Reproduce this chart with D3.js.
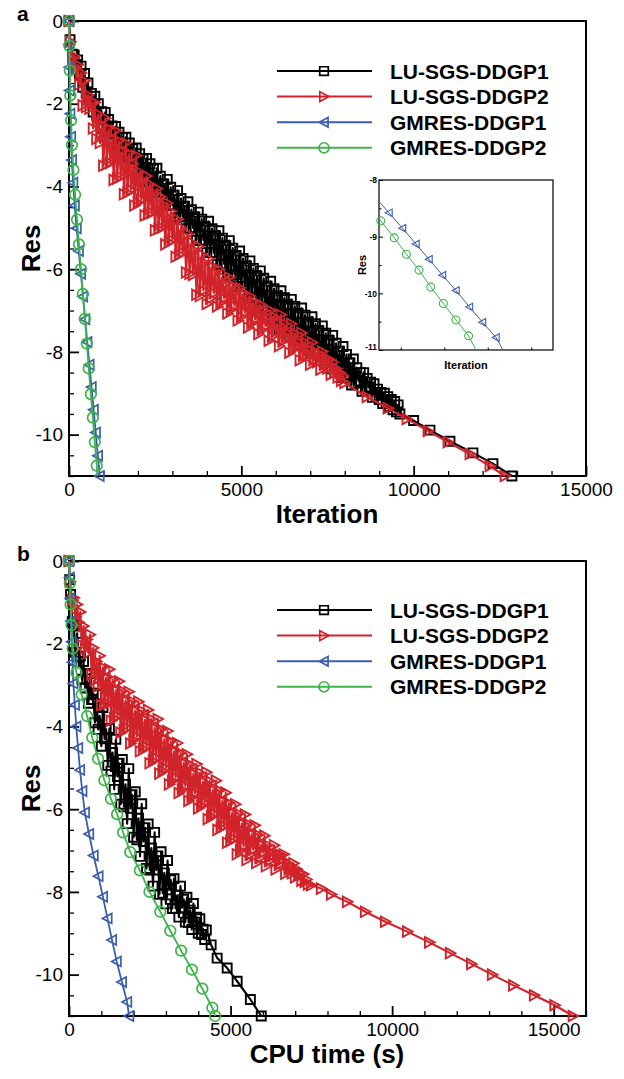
<!DOCTYPE html>
<html><head><meta charset="utf-8">
<script src="https://cdn.jsdelivr.net/npm/d3@7"></script>
<style>
body{margin:0;background:#fff}
text{font-family:"Liberation Sans",Arial,sans-serif;fill:#000}
</style>
</head><body>
<script>
// ---------------- DATA ----------------
const seriesNames = ["LU-SGS-DDGP1","LU-SGS-DDGP2","GMRES-DDGP1","GMRES-DDGP2"];
const resTicks = [0,-2,-4,-6,-8,-10];
const iterTicks = [0,5000,10000,15000];
const cpuTicks = [0,5000,10000,15000];
const insetXTicks = [600,700,800,900,1000];
const insetYTicks = [-8,-9,-10,-11];

// Panel a : residual vs iteration
const luSgs1Iter = [[0,0],[30,-0.45],[100,-0.80],[150,-0.82],[200,-1.05],[250,-0.94],[300,-1.30],[350,-1.09],[400,-1.60],[450,-1.27],[500,-1.75],[550,-1.50],[600,-1.90],[650,-1.75],[700,-2.20],[750,-1.82],[800,-2.28],[850,-2.00],[900,-2.37],[950,-2.19],[1000,-2.60],[1050,-2.21],[1100,-2.67],[1150,-2.38],[1200,-2.73],[1250,-2.54],[1300,-2.95],[1350,-2.55],[1400,-3.00],[1450,-2.69],[1500,-3.05],[1550,-2.82],[1600,-3.25],[1650,-2.81],[1700,-3.30],[1750,-2.95],[1800,-3.35],[1850,-3.09],[1900,-3.55],[1950,-3.07],[2000,-3.60],[2050,-3.21],[2100,-3.65],[2150,-3.34],[2200,-3.85],[2250,-3.32],[2300,-3.90],[2350,-3.45],[2400,-3.95],[2450,-3.58],[2500,-4.15],[2550,-3.56],[2600,-4.15],[2650,-3.75],[2700,-4.15],[2750,-3.94],[2800,-4.45],[2850,-3.83],[2900,-4.45],[2950,-4.02],[3000,-4.45],[3050,-4.21],[3100,-4.75],[3150,-4.10],[3200,-4.74],[3250,-4.29],[3300,-4.73],[3350,-4.48],[3400,-5.02],[3450,-4.37],[3500,-5.01],[3550,-4.56],[3600,-5.00],[3650,-4.74],[3700,-5.30],[3750,-4.62],[3800,-5.30],[3850,-4.79],[3900,-5.30],[3950,-4.97],[4000,-5.60],[4050,-4.84],[4100,-5.60],[4150,-5.02],[4200,-5.60],[4250,-5.19],[4300,-5.89],[4350,-5.07],[4400,-5.88],[4450,-5.25],[4500,-5.87],[4550,-5.43],[4600,-6.16],[4650,-5.31],[4700,-6.15],[4750,-5.49],[4800,-6.13],[4850,-5.67],[4900,-6.42],[4950,-5.56],[5000,-6.42],[5050,-5.74],[5100,-6.41],[5150,-5.92],[5200,-6.70],[5250,-5.80],[5300,-6.69],[5350,-5.98],[5400,-6.67],[5450,-6.16],[5500,-6.95],[5550,-6.04],[5600,-6.93],[5650,-6.22],[5700,-6.91],[5750,-6.41],[5800,-7.19],[5850,-6.29],[5900,-7.17],[5950,-6.47],[6000,-7.15],[6050,-6.65],[6100,-7.43],[6150,-6.52],[6200,-7.40],[6250,-6.69],[6300,-7.37],[6350,-6.86],[6400,-7.64],[6450,-6.73],[6500,-7.61],[6550,-6.90],[6600,-7.58],[6650,-7.07],[6700,-7.85],[6750,-6.94],[6800,-7.81],[6850,-7.11],[6900,-7.77],[6950,-7.28],[7000,-8.03],[7050,-7.15],[7100,-7.99],[7150,-7.32],[7200,-7.95],[7250,-7.49],[7300,-8.21],[7350,-7.37],[7400,-8.18],[7450,-7.55],[7500,-8.14],[7550,-7.72],[7600,-8.41],[7650,-7.60],[7700,-8.38],[7750,-7.79],[7800,-8.35],[7850,-7.98],[7900,-8.62],[7950,-7.87],[8000,-8.58],[8050,-8.06],[8100,-8.55],[8150,-8.26],[8200,-8.80],[8250,-8.17],[8300,-8.75],[8350,-8.38],[8400,-8.70],[8450,-8.50],[8500,-8.95],[8550,-8.50],[8600,-8.90],[8650,-8.64],[8700,-8.85],[8750,-8.73],[8800,-9.10],[8850,-8.77],[8900,-9.05],[8950,-8.90],[9000,-9.15],[9050,-8.98],[9100,-9.25],[9150,-9.00],[9200,-9.25],[9250,-9.08],[9300,-9.32],[9350,-9.15],[9400,-9.40],[9450,-9.20],[9500,-9.45],[9550,-9.28],[9600,-9.50],[10000,-9.66],[10473,-9.89],[11053,-10.16],[11720,-10.44],[12300,-10.70],[12850,-11.0]];
const luSgs2Iter = [[0,0],[40,-0.5],[100,-0.90],[150,-0.85],[200,-1.15],[250,-1.06],[300,-1.54],[350,-1.26],[400,-2.04],[450,-1.45],[500,-2.08],[550,-1.79],[600,-2.12],[650,-1.95],[700,-2.60],[750,-1.97],[800,-2.85],[850,-2.25],[900,-2.95],[950,-2.54],[1000,-3.50],[1050,-2.35],[1100,-3.46],[1150,-2.60],[1200,-3.43],[1250,-2.85],[1300,-3.84],[1350,-2.65],[1400,-3.81],[1450,-2.90],[1500,-3.77],[1550,-3.15],[1600,-4.19],[1650,-2.95],[1700,-4.15],[1750,-3.20],[1800,-4.08],[1850,-3.45],[1900,-4.46],[1950,-3.25],[2000,-4.39],[2050,-3.65],[2100,-4.32],[2150,-3.85],[2200,-4.70],[2250,-3.75],[2300,-4.67],[2350,-3.95],[2400,-4.64],[2450,-4.15],[2500,-5.06],[2550,-4.05],[2600,-5.03],[2650,-4.25],[2700,-5.00],[2750,-4.45],[2800,-5.40],[2850,-4.40],[2900,-5.35],[2950,-4.60],[3000,-5.30],[3050,-4.85],[3100,-5.70],[3150,-4.80],[3200,-5.65],[3250,-5.00],[3300,-5.60],[3350,-5.20],[3400,-6.08],[3450,-5.15],[3500,-6.11],[3550,-5.35],[3600,-6.14],[3650,-5.55],[3700,-6.62],[3750,-5.45],[3800,-6.65],[3850,-5.65],[3900,-6.52],[3950,-5.85],[4000,-6.84],[4050,-5.75],[4100,-6.71],[4150,-5.95],[4200,-6.58],[4250,-6.10],[4300,-6.90],[4350,-6.00],[4400,-6.81],[4450,-6.20],[4500,-6.71],[4550,-6.35],[4600,-7.07],[4650,-6.20],[4700,-6.98],[4750,-6.40],[4800,-6.89],[4850,-6.55],[4900,-7.24],[4950,-6.45],[5000,-7.15],[5050,-6.60],[5100,-7.05],[5150,-6.75],[5200,-7.41],[5250,-6.65],[5300,-7.31],[5350,-6.80],[5400,-7.22],[5450,-6.95],[5500,-7.57],[5550,-6.85],[5600,-7.47],[5650,-7.00],[5700,-7.38],[5750,-7.15],[5800,-7.73],[5850,-7.00],[5900,-7.63],[5950,-7.15],[6000,-7.52],[6050,-7.32],[6100,-7.86],[6150,-7.10],[6200,-7.75],[6250,-7.32],[6300,-7.65],[6350,-7.55],[6400,-8.02],[6450,-7.32],[6500,-7.94],[6550,-7.55],[6600,-7.86],[6650,-7.77],[6700,-8.20],[6750,-7.54],[6800,-8.09],[6850,-7.77],[6900,-8.10],[6950,-7.95],[7000,-8.31],[7050,-7.77],[7100,-8.20],[7150,-7.99],[7200,-8.25],[7250,-8.05],[7300,-8.43],[7350,-7.99],[7400,-8.31],[7450,-8.15],[7500,-8.40],[7550,-8.18],[7600,-8.55],[7650,-8.25],[7700,-8.50],[7750,-8.40],[7800,-8.62],[7850,-8.50],[7900,-8.70],[7950,-8.58],[8000,-8.75],[8645,-9.09],[9254,-9.36],[9805,-9.62],[10415,-9.91],[10995,-10.18],[11633,-10.47],[12213,-10.76],[12650,-11.0]];
const gmres1Iter = [[0,0],[1,-0.28],[2,-0.56],[5,-0.84],[9,-1.12],[14,-1.4],[20,-1.68],[27,-1.96],[35,-2.24],[44,-2.52],[55,-2.8],[68,-3.08],[83,-3.36],[100,-3.64],[120,-3.91],[142,-4.19],[166,-4.46],[192,-4.74],[220,-5.01],[251,-5.28],[282,-5.56],[313,-5.83],[344,-6.11],[375,-6.38],[406,-6.66],[437,-6.93],[468,-7.21],[499,-7.48],[530,-7.76],[561,-8.03],[592,-8.31],[623,-8.58],[654,-8.85],[685,-9.13],[715,-9.4],[746,-9.68],[777,-9.95],[808,-10.24],[838,-10.51],[869,-10.78],[885,-11.0]];
const gmres2Iter = [[0,0],[5,-0.3],[10,-0.6],[17,-0.9],[25,-1.2],[32,-1.5],[40,-1.8],[50,-2.1],[60,-2.4],[72,-2.7],[85,-3.0],[105,-3.3],[128,-3.6],[152,-3.9],[177,-4.2],[205,-4.5],[233,-4.8],[262,-5.1],[290,-5.4],[318,-5.7],[347,-6.0],[375,-6.3],[403,-6.6],[432,-6.9],[460,-7.2],[488,-7.5],[517,-7.8],[545,-8.1],[573,-8.4],[604,-8.72],[635,-9.02],[663,-9.31],[692,-9.59],[719,-9.89],[748,-10.18],[777,-10.47],[806,-10.75],[823,-11.0]];

// Panel b : residual vs CPU time (s)
const luSgs1Cpu = [[0,0],[20,-0.45],[50,-0.81],[100,-1.47],[150,-1.57],[200,-2.21],[250,-1.75],[300,-2.33],[350,-2.30],[400,-2.86],[450,-2.43],[500,-3.07],[550,-2.85],[600,-3.44],[650,-2.72],[700,-3.35],[750,-3.19],[800,-3.91],[850,-3.23],[900,-4.07],[950,-3.74],[1000,-4.48],[1050,-3.54],[1100,-4.30],[1150,-4.07],[1200,-4.94],[1250,-4.05],[1300,-5.08],[1350,-4.63],[1400,-5.52],[1450,-4.31],[1500,-5.21],[1550,-4.89],[1600,-5.88],[1650,-4.80],[1700,-5.94],[1750,-5.40],[1800,-6.35],[1850,-5.02],[1900,-5.98],[1950,-5.65],[2000,-6.68],[2050,-5.58],[2100,-6.74],[2150,-6.22],[2200,-7.14],[2250,-5.87],[2300,-6.78],[2350,-6.45],[2400,-7.43],[2450,-6.36],[2500,-7.47],[2550,-6.94],[2600,-7.86],[2650,-6.56],[2700,-7.47],[2750,-7.13],[2800,-8.06],[2850,-7.03],[2900,-8.03],[2950,-7.54],[3000,-8.29],[3050,-7.24],[3100,-7.95],[3150,-7.71],[3200,-8.40],[3250,-7.68],[3300,-8.40],[3350,-8.08],[3400,-8.61],[3450,-7.86],[3500,-8.38],[3550,-8.18],[3600,-8.73],[3650,-8.13],[3700,-8.74],[3750,-8.44],[3800,-8.91],[3850,-8.28],[3900,-8.73],[3950,-8.61],[4000,-9.00],[4050,-8.65],[4100,-9.03],[4150,-8.90],[4200,-9.15],[4250,-8.92],[4399,-9.28],[4585,-9.60],[4895,-9.84],[5204,-10.16],[5613,-10.60],[5950,-11.0]];
const luSgs2Cpu = [[0,0],[30,-0.5],[100,-0.95],[150,-0.89],[200,-1.35],[250,-1.05],[300,-1.48],[350,-1.23],[400,-2.03],[450,-1.57],[500,-2.12],[550,-1.90],[600,-2.22],[650,-1.78],[700,-2.75],[750,-2.10],[800,-2.89],[850,-2.43],[900,-3.03],[950,-2.29],[1000,-3.48],[1050,-2.57],[1100,-3.47],[1150,-2.82],[1200,-3.45],[1250,-2.62],[1300,-3.86],[1350,-2.87],[1400,-3.81],[1450,-3.12],[1500,-3.75],[1550,-2.91],[1600,-4.15],[1650,-3.14],[1700,-4.09],[1750,-3.37],[1800,-4.04],[1850,-3.16],[1900,-4.41],[1950,-3.39],[2000,-4.33],[2050,-3.62],[2100,-4.25],[2150,-3.40],[2200,-4.60],[2250,-3.62],[2300,-4.55],[2350,-3.84],[2400,-4.49],[2450,-3.60],[2500,-4.89],[2550,-3.82],[2600,-4.83],[2650,-4.04],[2700,-4.76],[2750,-3.82],[2800,-5.14],[2850,-4.07],[2900,-5.08],[2950,-4.31],[3000,-5.01],[3050,-4.11],[3100,-5.40],[3150,-4.36],[3200,-5.32],[3250,-4.60],[3300,-5.24],[3350,-4.40],[3400,-5.61],[3450,-4.64],[3500,-5.53],[3550,-4.88],[3600,-5.44],[3650,-4.67],[3700,-5.80],[3750,-4.92],[3800,-5.71],[3850,-5.14],[3900,-5.62],[3950,-4.91],[4000,-5.98],[4050,-5.12],[4100,-5.92],[4150,-5.34],[4200,-5.85],[4250,-5.11],[4300,-6.24],[4350,-5.32],[4400,-6.18],[4450,-5.54],[4500,-6.11],[4550,-5.31],[4600,-6.50],[4650,-5.55],[4700,-6.45],[4750,-5.80],[4800,-6.41],[4850,-5.60],[4900,-6.81],[4950,-5.85],[5000,-6.77],[5050,-6.09],[5100,-6.72],[5150,-5.88],[5200,-7.09],[5250,-6.11],[5300,-7.00],[5350,-6.34],[5400,-6.90],[5450,-6.13],[5500,-7.23],[5550,-6.36],[5600,-7.10],[5650,-6.60],[5700,-6.98],[5750,-6.39],[5800,-7.30],[5850,-6.62],[5900,-7.18],[5950,-6.86],[6000,-7.05],[6050,-6.64],[6100,-7.38],[6150,-6.87],[6200,-7.25],[6250,-7.05],[6300,-7.13],[6350,-6.87],[6400,-7.46],[6450,-7.09],[6500,-7.34],[6550,-7.10],[6600,-7.22],[6650,-7.09],[6700,-7.56],[6750,-7.30],[6800,-7.45],[6850,-7.40],[6900,-7.55],[6950,-7.31],[7000,-7.65],[7050,-7.45],[7100,-7.60],[7150,-7.55],[7200,-7.73],[7250,-7.57],[7300,-7.76],[7350,-7.70],[7400,-7.82],[7497,-7.84],[7807,-7.92],[8117,-8.06],[8612,-8.24],[9170,-8.48],[9789,-8.72],[10471,-8.96],[11152,-9.22],[11797,-9.48],[12454,-9.74],[13098,-10.0],[13755,-10.26],[14399,-10.5],[15031,-10.74],[15600,-11.0]];
const gmres1Cpu = [[0,0],[20,-0.4],[40,-0.9],[60,-1.45],[80,-1.95],[105,-2.45],[134,-2.96],[180,-3.48],[225,-4.0],[280,-4.52],[340,-5.05],[410,-5.56],[490,-6.08],[620,-6.6],[760,-7.12],[910,-7.62],[1050,-8.12],[1190,-8.64],[1330,-9.16],[1475,-9.68],[1636,-10.18],[1797,-10.66],[1860,-11.0]];
const gmres2Cpu = [[0,0],[25,-0.54],[50,-1.05],[80,-1.55],[114,-2.12],[230,-2.7],[390,-3.23],[560,-3.75],[720,-4.27],[900,-4.78],[1094,-5.3],[1300,-5.75],[1490,-6.12],[1673,-6.56],[1896,-7.04],[2193,-7.48],[2491,-8.0],[2825,-8.48],[3135,-8.94],[3470,-9.42],[3804,-9.88],[4126,-10.34],[4436,-10.8],[4523,-11.0]];

// ---------------- STYLE ----------------
const colBlack = "#000000", colRed = "#d1232a", colBlue = "#3a5daf", colGreen = "#3cb54a";
const shapes = {
  square: s => `M${-s},${-s}H${s}V${s}H${-s}Z`,
  triR: s => `M${-s*0.85},${-s}L${s},0L${-s*0.85},${s}Z`,
  triL: s => `M${s*0.85},${-s}L${-s},0L${s*0.85},${s}Z`,
  circle: s => `M${s},0A${s},${s} 0 1,1 ${-s},0A${s},${s} 0 1,1 ${s},0Z`
};
const seriesStyle = [
  {color: colBlack, shape: "square", size: 4.5},
  {color: colRed, shape: "triR", size: 5.2},
  {color: colBlue, shape: "triL", size: 5},
  {color: colGreen, shape: "circle", size: 5.3}
];
const fmt = d => String(d);

const W = 624, H = 1079;
const svg = d3.select("body").append("svg").attr("width", W).attr("height", H);

function drawSeries(g, data, x, y, st, every, lw, mw) {
  const line = d3.line().x(d => x(d[0])).y(d => y(d[1]));
  g.append("path").attr("d", line(data)).attr("fill", "none")
    .attr("stroke", st.color).attr("stroke-width", lw).attr("stroke-linejoin", "round");
  const pts = data.filter((d, i) => i % every === 0);
  g.selectAll(null).data(pts).enter().append("path")
    .attr("d", shapes[st.shape](st.size))
    .attr("transform", d => `translate(${x(d[0])},${y(d[1])})`)
    .attr("fill", "none").attr("stroke", st.color).attr("stroke-width", mw);
}

function drawPanel(opt) {
  const g = svg.append("g");
  const x = d3.scaleLinear().domain(opt.xDomain).range([69, 586]);
  const y = d3.scaleLinear().domain([-11, 0]).range([opt.bottom, opt.top]);

  const xMinor = d3.range(opt.xDomain[0], opt.xDomain[1] + 1, 1000).filter(v => v % 5000 !== 0);
  const yMinor = d3.range(-11, 0.01, 0.5).filter(v => Math.abs(v % 2) > 0.01);
  g.append("g").attr("transform", `translate(0,${opt.bottom})`)
    .call(d3.axisBottom(x).tickValues(xMinor).tickSize(-5).tickFormat(""))
    .call(a => a.select(".domain").remove())
    .call(a => a.selectAll("line").attr("stroke-width", 1.3));
  g.append("g").attr("transform", `translate(69,0)`)
    .call(d3.axisLeft(y).tickValues(yMinor).tickSize(-5).tickFormat(""))
    .call(a => a.select(".domain").remove())
    .call(a => a.selectAll("line").attr("stroke-width", 1.3));
  g.append("g").attr("transform", `translate(0,${opt.bottom})`)
    .call(d3.axisBottom(x).tickValues(opt.xTicks).tickSize(-10).tickPadding(7).tickFormat(fmt))
    .call(a => a.select(".domain").remove())
    .call(a => a.selectAll("line").attr("stroke-width", 1.8))
    .call(a => a.selectAll("text").attr("font-size", 19).attr("font-family", "Liberation Sans, Arial, sans-serif"));
  g.append("g").attr("transform", `translate(69,0)`)
    .call(d3.axisLeft(y).tickValues(resTicks).tickSize(-10).tickPadding(6).tickFormat(fmt))
    .call(a => a.select(".domain").remove())
    .call(a => a.selectAll("line").attr("stroke-width", 1.8))
    .call(a => a.selectAll("text").attr("font-size", 19).attr("font-family", "Liberation Sans, Arial, sans-serif"));

  g.append("rect").attr("x", 69).attr("y", opt.top).attr("width", 586 - 69).attr("height", opt.bottom - opt.top)
    .attr("fill", "none").attr("stroke", "#000").attr("stroke-width", 2);

  g.append("text").attr("x", 327).attr("y", opt.bottom + 47).attr("text-anchor", "middle")
    .attr("font-size", 26).attr("font-weight", "bold").text(opt.xTitle);
  g.append("text").attr("transform", `translate(40,${(opt.top + opt.bottom) / 2}) rotate(-90)`)
    .attr("text-anchor", "middle").attr("font-size", 26).attr("font-weight", "bold").text("Res");
  g.append("text").attr("x", 17).attr("y", opt.top).attr("font-size", 21).attr("font-weight", "bold").text(opt.label);

  opt.data.forEach((d, i) => drawSeries(g, d, x, y, seriesStyle[i], opt.every[i], i < 2 ? 2.1 : 1.8, i < 2 ? 1.9 : 1.7));

  const lg = g.append("g");
  seriesNames.forEach((n, i) => {
    const yy = opt.legendTop + i * 25.6;
    const st = seriesStyle[i];
    lg.append("line").attr("x1", 277).attr("x2", 372).attr("y1", yy).attr("y2", yy)
      .attr("stroke", st.color).attr("stroke-width", 2);
    lg.append("path").attr("d", shapes[st.shape](st.size * 0.95)).attr("transform", `translate(324,${yy})`)
      .attr("fill", "none").attr("stroke", st.color).attr("stroke-width", 1.7);
    lg.append("text").attr("x", 390).attr("y", yy).attr("dy", "0.36em")
      .attr("font-size", 21).attr("font-weight", "bold").text(n);
  });
}

drawPanel({xDomain: [0, 15000], xTicks: iterTicks, top: 21, bottom: 476, xTitle: "Iteration", label: "a",
  data: [luSgs1Iter, luSgs2Iter, gmres1Iter, gmres2Iter], every: [1, 1, 2, 2], legendTop: 71});
drawPanel({xDomain: [0, 16000], xTicks: cpuTicks, top: 561, bottom: 1016, xTitle: "CPU time (s)", label: "b",
  data: [luSgs1Cpu, luSgs2Cpu, gmres1Cpu, gmres2Cpu], every: [1, 1, 1, 1], legendTop: 610});

// ---------------- INSET ----------------
(function () {
  const L = 379, R = 553, T = 180, B = 350;
  const g = svg.append("g");
  const x = d3.scaleLinear().domain([600, 1000]).range([L, R]);
  const y = d3.scaleLinear().domain([-11, -8]).range([B, T]);
  g.append("rect").attr("x", L).attr("y", T).attr("width", R - L).attr("height", B - T).attr("fill", "#fff");
  g.append("clipPath").attr("id", "insetClip").append("rect").attr("x", L).attr("y", T).attr("width", R - L).attr("height", B - T);
  g.append("clipPath").attr("id", "insetLbl").append("rect").attr("x", 330).attr("y", 150).attr("width", 226).attr("height", 240);

  g.append("g").attr("transform", `translate(0,${B})`)
    .call(d3.axisBottom(x).tickValues(d3.range(650, 1000, 100)).tickSize(-2.5).tickFormat(""))
    .call(a => a.select(".domain").remove());
  g.append("g").attr("transform", `translate(${L},0)`)
    .call(d3.axisLeft(y).tickValues([-8.5, -9.5, -10.5]).tickSize(-2.5).tickFormat(""))
    .call(a => a.select(".domain").remove());
  g.append("g").attr("transform", `translate(0,${B})`).attr("clip-path", "url(#insetLbl)")
    .call(d3.axisBottom(x).tickValues(insetXTicks).tickSize(-4).tickPadding(2).tickFormat(fmt))
    .call(a => a.select(".domain").remove())
    .call(a => a.selectAll("text").attr("font-size", 8.5).attr("font-weight", "bold").attr("font-family", "Liberation Sans, Arial, sans-serif"))
    .call(a => a.selectAll(".tick").filter(d => d === 600).select("text").attr("x", 3));
  g.append("g").attr("transform", `translate(${L},0)`)
    .call(d3.axisLeft(y).tickValues(insetYTicks).tickSize(-4).tickPadding(2).tickFormat(fmt))
    .call(a => a.select(".domain").remove())
    .call(a => a.selectAll("text").attr("font-size", 8.5).attr("font-weight", "bold").attr("font-family", "Liberation Sans, Arial, sans-serif"))
    .call(a => a.selectAll(".tick").filter(d => d === -11).select("text").attr("y", -3));

  g.append("rect").attr("x", L).attr("y", T).attr("width", R - L).attr("height", B - T)
    .attr("fill", "none").attr("stroke", "#000").attr("stroke-width", 1.2);
  g.append("text").attr("x", (L + R) / 2).attr("y", B + 19).attr("text-anchor", "middle")
    .attr("font-size", 11).attr("font-weight", "bold").text("Iteration");
  g.append("text").attr("transform", `translate(366,${(T + B) / 2}) rotate(-90)`).attr("text-anchor", "middle")
    .attr("font-size", 11).attr("font-weight", "bold").text("Res");

  const inside = d => d[0] >= 600 && d[0] <= 1000 && d[1] > -11 && d[1] <= -8;
  const gc = g.append("g").attr("clip-path", "url(#insetClip)");
  [gmres1Iter, gmres2Iter].forEach((d, k) => {
    const st = seriesStyle[2 + k];
    const line = d3.line().x(p => x(p[0])).y(p => y(p[1]));
    gc.append("path").attr("d", line(d)).attr("fill", "none").attr("stroke", st.color).attr("stroke-width", 1);
    g.selectAll(null).data(d.filter(inside)).enter().append("path")
      .attr("d", shapes[st.shape](st.size * 0.75))
      .attr("transform", p => `translate(${x(p[0])},${y(p[1])})`)
      .attr("fill", "none").attr("stroke", st.color).attr("stroke-width", 1.1);
  });
})();
</script>
</body></html>
